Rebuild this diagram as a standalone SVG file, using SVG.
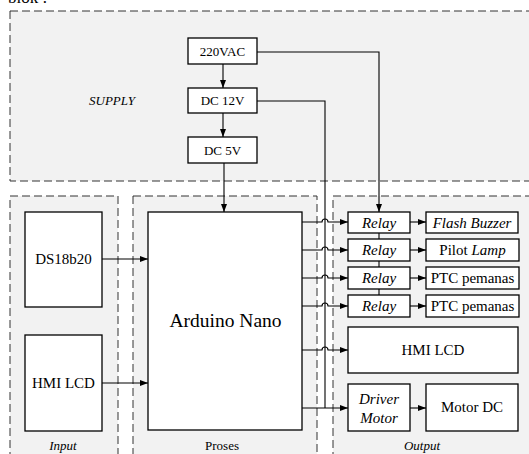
<svg xmlns="http://www.w3.org/2000/svg" width="529" height="454" viewBox="0 0 529 454">
<defs>
<marker id="ah" markerWidth="8" markerHeight="6" refX="8" refY="3" orient="auto" markerUnits="userSpaceOnUse"><path d="M0,0 L8,3 L0,6 Z" fill="#000"/></marker>
<style>
.grp{fill:#f2f2f2;stroke:#333;stroke-width:1;stroke-dasharray:8,4}
.box{fill:#fff;stroke:#000;stroke-width:1.3}
.ln{fill:none;stroke:#000;stroke-width:1.1}
.t{fill:#000;text-anchor:middle}
.i{font-style:italic}
</style>
</defs>
<rect width="529" height="454" fill="#fff"/>
<g font-family="Liberation Serif, DejaVu Serif, serif">
<text x="8" y="3" font-size="17" fill="#000">blok :</text>
<g id="supply">
<rect class="grp" x="10" y="11" width="530" height="170"/>
<text class="t i" x="112" y="105" font-size="13">SUPPLY</text>
</g>
<g id="input">
<rect class="grp" x="10" y="196" width="108" height="270"/>
<text class="t i" x="63" y="450" font-size="13">Input</text>
</g>
<g id="proses">
<rect class="grp" x="133" y="196" width="184" height="270"/>
<text class="t" x="222" y="450" font-size="13">Proses</text>
</g>
<g id="output">
<rect class="grp" x="333" y="196" width="210" height="270"/>
<text class="t i" x="422" y="450" font-size="13">Output</text>
</g>
<g id="n220vac"><rect class="box" x="188" y="38" width="69" height="26"/><text class="t" x="222.5" y="56" font-size="13">220VAC</text></g>
<g id="dc12v"><rect class="box" x="188" y="88" width="69" height="25"/><text class="t" x="222.5" y="105" font-size="13">DC 12V</text></g>
<g id="dc5v"><rect class="box" x="188" y="137" width="69" height="26"/><text class="t" x="222.5" y="155" font-size="13">DC 5V</text></g>
<g id="ds18b20"><rect class="box" x="25" y="212" width="77" height="95"/><text class="t" x="63.5" y="264" font-size="15">DS18b20</text></g>
<g id="hmi_in"><rect class="box" x="25" y="335" width="77" height="96"/><text class="t" x="63.5" y="388" font-size="15">HMI LCD</text></g>
<g id="arduino"><rect class="box" x="148" y="212" width="154" height="218"/><text class="t" x="225.5" y="327" font-size="19.5">Arduino Nano</text></g>
<g id="relay1"><rect class="box" x="348" y="212" width="62" height="21"/><text class="t i" x="379" y="227.5" font-size="15">Relay</text></g>
<g id="relay2"><rect class="box" x="348" y="239" width="62" height="22"/><text class="t i" x="379" y="255" font-size="15">Relay</text></g>
<g id="relay3"><rect class="box" x="348" y="267" width="62" height="22"/><text class="t i" x="379" y="283" font-size="15">Relay</text></g>
<g id="relay4"><rect class="box" x="348" y="295" width="62" height="22"/><text class="t i" x="379" y="311" font-size="15">Relay</text></g>
<g id="buzzer"><rect class="box" x="426" y="212" width="92" height="21"/><text class="t i" x="472" y="227.5" font-size="15">Flash Buzzer</text></g>
<g id="lamp"><rect class="box" x="426" y="239" width="93" height="22"/><text class="t" x="472.5" y="255" font-size="15">Pilot <tspan font-style="italic">Lamp</tspan></text></g>
<g id="ptc1"><rect class="box" x="426" y="267" width="93" height="22"/><text class="t" x="472.5" y="283" font-size="15">PTC pemanas</text></g>
<g id="ptc2"><rect class="box" x="426" y="295" width="93" height="22"/><text class="t" x="472.5" y="311" font-size="15">PTC pemanas</text></g>
<g id="hmi_out"><rect class="box" x="348" y="327" width="170" height="46"/><text class="t" x="433" y="355" font-size="15">HMI LCD</text></g>
<g id="driver"><rect class="box" x="348" y="384" width="62" height="47"/><text class="t i" x="379" y="404" font-size="15">Driver</text><text class="t i" x="379" y="423" font-size="15">Motor</text></g>
<g id="motor"><rect class="box" x="426" y="384" width="92" height="47"/><text class="t" x="472" y="412" font-size="15">Motor DC</text></g>
</g>
<g id="connectors">
<path class="ln" d="M223,64 V88" marker-end="url(#ah)"/>
<path class="ln" d="M223,113 V137" marker-end="url(#ah)"/>
<path class="ln" d="M224,163 V212" marker-end="url(#ah)"/>
<path class="ln" d="M257,52 H379 V212" marker-end="url(#ah)"/>
<path class="ln" d="M257,101 H325 V408"/>
<path class="ln" d="M379,233 V239 M379,261 V267 M379,289 V295"/>
<path class="ln" d="M102,259 H148" marker-end="url(#ah)"/>
<path class="ln" d="M102,383 H148" marker-end="url(#ah)"/>
<path class="ln" d="M302,222 H322 a3,3 0 0 1 6,0 H348" marker-end="url(#ah)"/>
<path class="ln" d="M302,250 H322 a3,3 0 0 1 6,0 H348" marker-end="url(#ah)"/>
<path class="ln" d="M302,278 H322 a3,3 0 0 1 6,0 H348" marker-end="url(#ah)"/>
<path class="ln" d="M302,306 H322 a3,3 0 0 1 6,0 H348" marker-end="url(#ah)"/>
<path class="ln" d="M302,350 H322 a3,3 0 0 1 6,0 H348" marker-end="url(#ah)"/>
<path class="ln" d="M302,408 H348" marker-end="url(#ah)"/>
<path class="ln" d="M410,222 H426" marker-end="url(#ah)"/>
<path class="ln" d="M410,250 H426" marker-end="url(#ah)"/>
<path class="ln" d="M410,278 H426" marker-end="url(#ah)"/>
<path class="ln" d="M410,306 H426" marker-end="url(#ah)"/>
<path class="ln" d="M410,408 H426" marker-end="url(#ah)"/>
</g>
</svg>
